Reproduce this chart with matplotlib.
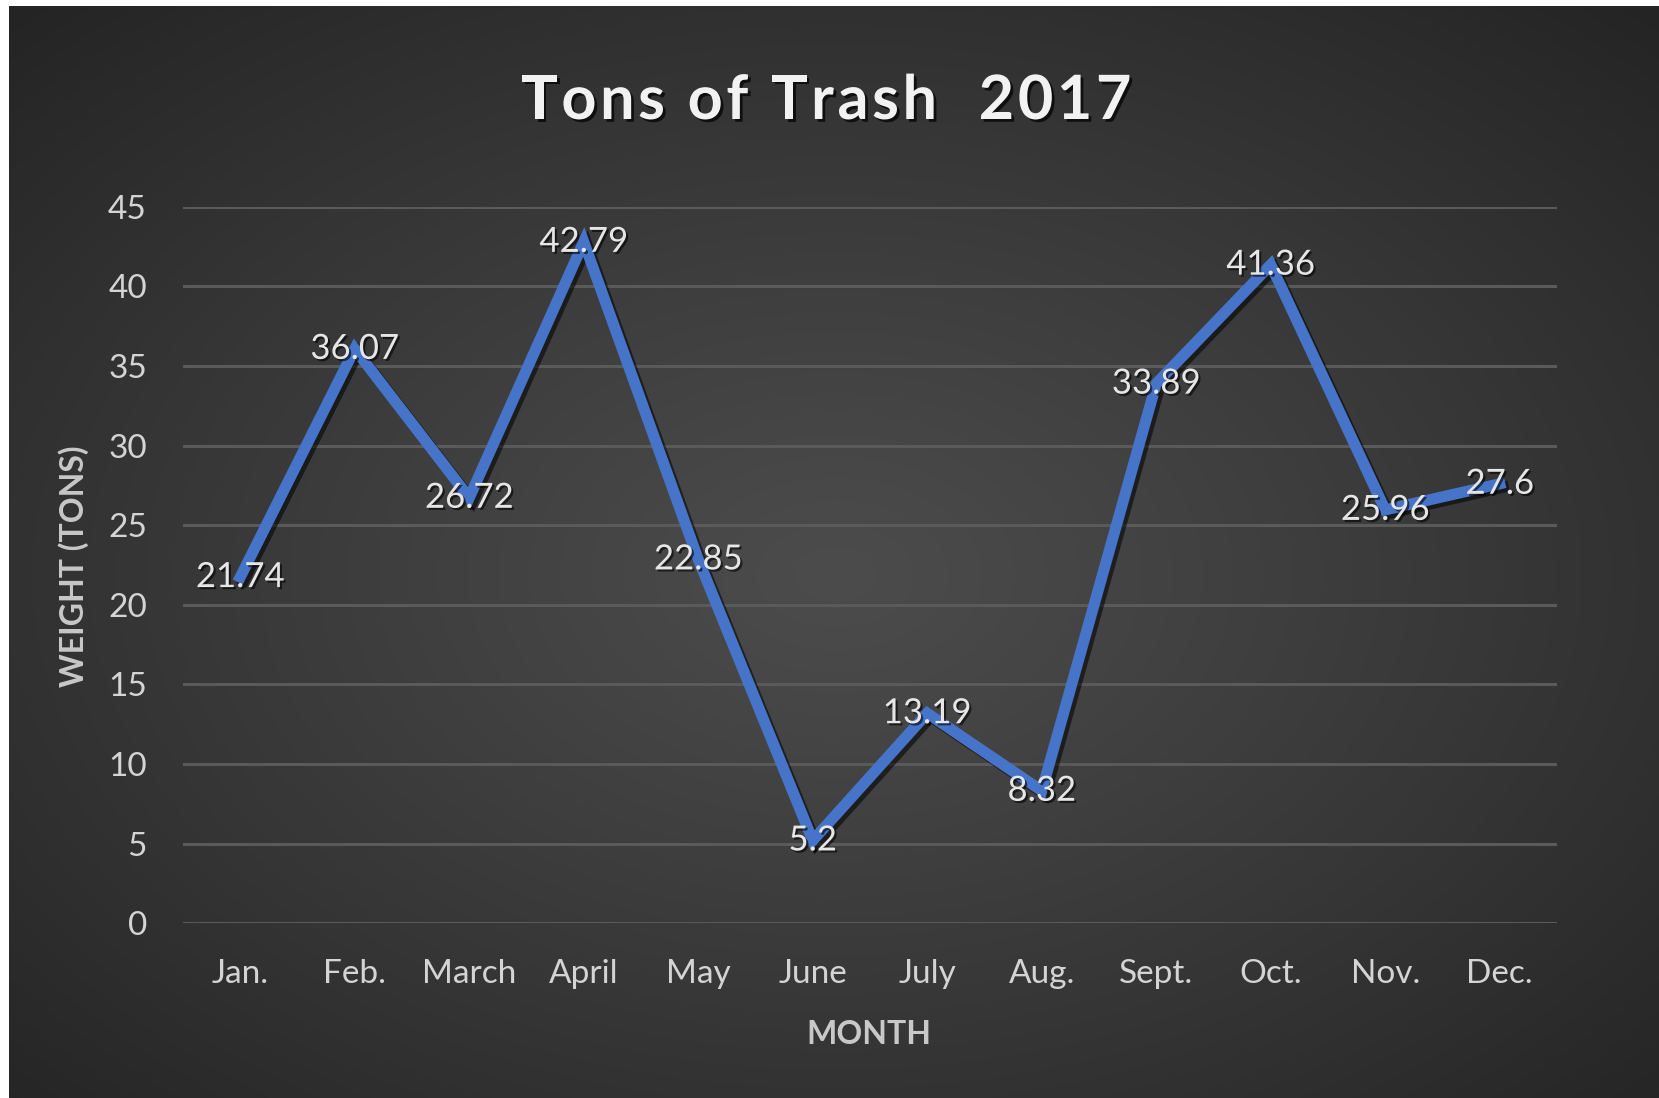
import numpy as np
import matplotlib
matplotlib.use("Agg")
import matplotlib.pyplot as plt
import matplotlib.patheffects as pe

months = ["Jan.", "Feb.", "March", "April", "May", "June", "July", "Aug.",
          "Sept.", "Oct.", "Nov.", "Dec."]
tons = [21.74, 36.07, 26.72, 42.79, 22.85, 5.2, 13.19, 8.32, 33.89, 41.36, 25.96, 27.6]
labels = ["21.74", "36.07", "26.72", "42.79", "22.85", "5.2", "13.19", "8.32",
          "33.89", "41.36", "25.96", "27.6"]
yticks = [0, 5, 10, 15, 20, 25, 30, 35, 40, 45]
title = "Tons of Trash  2017"

plt.rcParams['font.family'] = ['Lato', 'DejaVu Sans']

W, H = 1659, 1098
fig = plt.figure(figsize=(W / 100, H / 100), dpi=100, facecolor='white')

# background radial gradient
bg = fig.add_axes([9 / W, 0, (W - 9) / W, (H - 6) / H], zorder=0)
yy, xx = np.mgrid[0:400, 0:600]
cx, cy = 0.50 * 600, 0.52 * 400
d = np.sqrt(((xx - cx) / 600) ** 2 + ((yy - cy) / 400) ** 2)
d = np.clip(d / 0.72, 0, 1)
c_in, c_out = 0x4c / 255, 0x24 / 255
img = c_in + (c_out - c_in) * d ** 1.1
bg.imshow(np.dstack([img, img, img]), aspect='auto', extent=[0, 1, 0, 1], origin='upper')
bg.set_axis_off()

# main axes
left, right = 183, 1557
top, bottom = 206.7, 923.3
ax = fig.add_axes([left / W, (H - bottom) / H, (right - left) / W, (bottom - top) / H], zorder=1)
ax.set_facecolor('none')
for s in ax.spines.values():
    s.set_visible(False)

x = np.arange(len(months))
ax.set_xlim(-0.5, len(months) - 0.5)
ax.set_ylim(0, 45)
ax.set_yticks(yticks)
ax.set_xticks(x)
ax.set_xticklabels(months)
ax.tick_params(axis='both', length=0, colors='#d4d4d4', labelsize=24)
ax.tick_params(axis='y', pad=26)
ax.tick_params(axis='x', pad=26)
ax.grid(axis='y', color='#5a5a5a', linewidth=2.2, zorder=0)
ax.set_axisbelow(True)

ax.plot(x, tons, color='#4674C8', linewidth=8, solid_joinstyle='miter', zorder=3,
        path_effects=[pe.SimpleLineShadow(offset=(2.5, -2.5), shadow_color='black', alpha=0.55),
                      pe.Normal()])

for xi, yi, lab in zip(x, tons, labels):
    ax.text(xi, yi, lab, ha='center', va='center', fontsize=25, color='#e6e6e6', zorder=4,
            path_effects=[pe.withSimplePatchShadow(offset=(1.5, -1.5), shadow_rgbFace='black', alpha=0.6)])

# title with letter spacing, drawn character by character
renderer = fig.canvas.get_renderer()
tkw = dict(fontsize=44, fontweight='bold', color='#f2f2f2', va='baseline', ha='left',
           path_effects=[pe.withSimplePatchShadow(offset=(2, -2), shadow_rgbFace='black', alpha=0.7)])
track = 3.6
widths = []
for ch in title:
    t = fig.text(0, 0, ch if ch != ' ' else 'n', **tkw)
    bb = t.get_window_extent(renderer)
    w = bb.width if ch != ' ' else bb.width * 0.45
    widths.append(w)
    t.remove()
total = sum(widths) + track * (len(title) - 1)
xc = 781 * W / 1568
xpos = xc - total / 2
base_y = H - 119  # baseline in pixels from bottom
for ch, w in zip(title, widths):
    if ch != ' ':
        fig.text(xpos / W, base_y / H, ch, **tkw)
    xpos += w + track

fig.text(74 / W, 1 - 566 / H, "WEIGHT (TONS)", rotation=90, ha='center', va='center',
         fontsize=23, fontweight='bold', color='#c8c8c8')
fig.text(869 / W, 1 - 1035 / H, "MONTH", ha='center', va='center',
         fontsize=23, fontweight='bold', color='#c8c8c8')

fig.savefig("out.png", dpi=100, facecolor='white')
